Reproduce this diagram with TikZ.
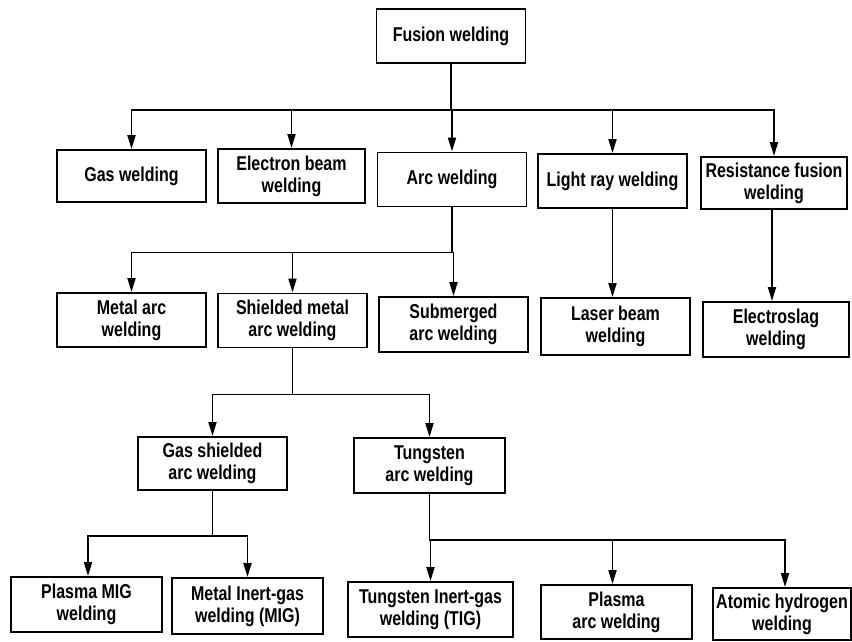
\documentclass[tikz,border=0pt]{standalone}
\usepackage{fontspec}
\newfontfamily\boxfont[FakeStretch=0.8]{Liberation Sans}
\usetikzlibrary{arrows.meta}
\begin{document}
\begin{tikzpicture}[x=1pt,y=-1pt,
  box/.style={draw, line width=1.9pt, minimum width=149pt, minimum height=54pt,
    align=center, inner sep=2pt, font=\boxfont\bfseries\fontsize{20}{22}\selectfont},
  conn/.style={line width=1.9pt},
  arr/.style={conn, -{Triangle[length=14pt,width=8pt]}}]
\useasboundingbox[fill=white] (0,0) rectangle (852,642);
% row 0
\node[box] (fusion) at (451,36) {Fusion welding};
% row 1
\node[box, minimum height=52pt] (gas) at (131.5,176) {Gas welding};
\node[box, minimum width=147pt] (ebeam) at (291.5,176) {Electron beam\\welding};
\node[box] (arc) at (452,179.5) {Arc welding};
\node[box] (light) at (612.5,181) {Light ray welding};
\node[box, minimum width=146pt, minimum height=52pt] (resist) at (774,183) {Resistance fusion\\welding};
% row 2
\node[box] (metalarc) at (131.5,320) {Metal arc\\welding};
\node[box] (shielded) at (292.5,320.5) {Shielded metal\\arc welding};
\node[box, minimum height=55pt] (submerged) at (453.5,324.5) {Submerged\\arc welding};
\node[box, minimum height=57pt] (laser) at (615.5,326.5) {Laser beam\\welding};
\node[box, minimum width=146pt, minimum height=55pt] (electroslag) at (776,329.5) {Electroslag\\welding};
% row 3
\node[box, minimum height=53pt] (gasshield) at (212.5,463.5) {Gas shielded\\arc welding};
\node[box, minimum width=151pt, minimum height=55pt] (tungsten) at (429.5,465.5) {Tungsten\\arc welding};
% row 4
\node[box, minimum width=151pt, minimum height=55pt] (plasmamig) at (86.5,604.5) {Plasma MIG\\welding};
\node[box, minimum width=151pt, minimum height=56pt] (metalinert) at (247.5,606) {Metal Inert-gas\\welding (MIG)};
\node[box, minimum width=165pt, minimum height=55pt] (tig) at (430.5,609.5) {Tungsten Inert-gas\\welding (TIG)};
\node[box, minimum width=151pt] (plasmaarc) at (616.5,612) {Plasma\\arc welding};
\node[box, minimum width=138pt, minimum height=52pt, inner sep=1pt] (atomic) at (782,614) {Atomic hydrogen\\welding};
% connectors row 0 -> row 1
\foreach \c in {gas,ebeam,arc,light,resist}
  \draw[arr] (fusion.south) -- ++(0,46) -| (\c.north);
% row 1 -> row 2
\foreach \c in {metalarc,shielded,submerged}
  \draw[arr] (arc.south) -- ++(0,45) -| (\c.north);
\draw[arr] (light.south) -- (light.south |- laser.north);
\draw[arr] ([xshift=-2pt]resist.south) -- ([xshift=-2pt]resist.south |- electroslag.north);
% row 2 -> row 3
\foreach \c in {gasshield,tungsten}
  \draw[arr] (shielded.south) -- ++(0,46) -| (\c.north);
% row 3 -> row 4
\draw[arr] (gasshield.south) -- ++(0,45) -| ([xshift=1.5pt]plasmamig.north);
\draw[arr] (gasshield.south) -- ++(0,45) -| (metalinert.north);
\draw[arr] (tungsten.south) -- ++(0,46) -| (tig.north);
\draw[arr] (tungsten.south) -- ++(0,46) -| ([xshift=-4pt]plasmaarc.north);
\draw[arr] (tungsten.south) -- ++(0,46) -| ([xshift=3pt]atomic.north);
\end{tikzpicture}
\end{document}
